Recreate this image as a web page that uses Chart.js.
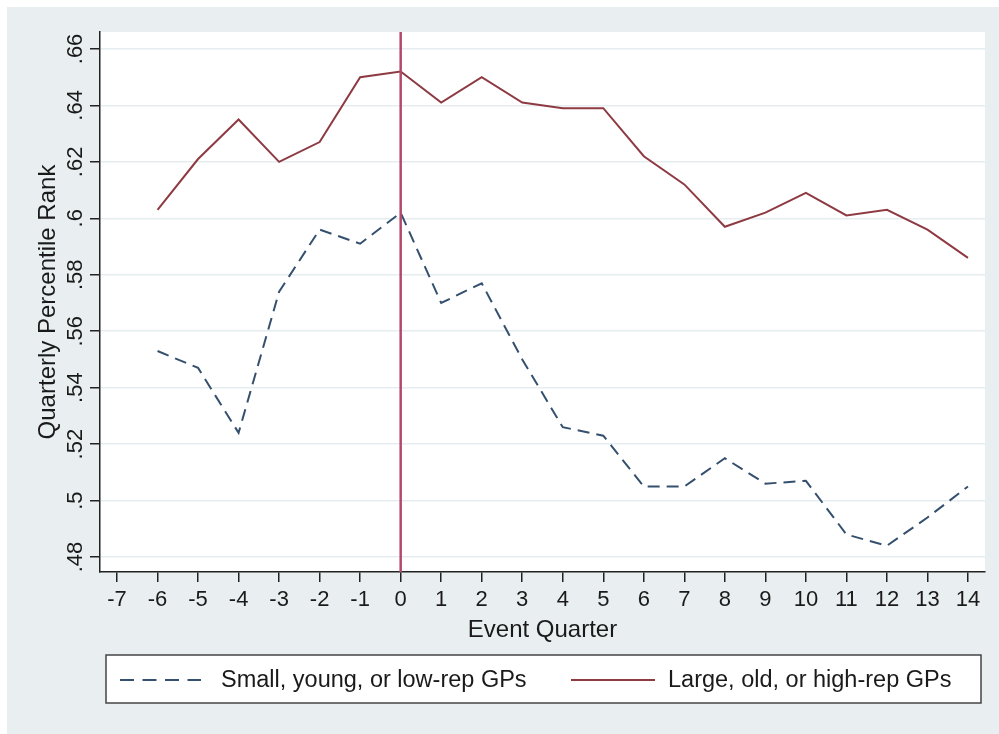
<!DOCTYPE html>
<html>
<head>
<meta charset="utf-8">
<script src="https://cdn.jsdelivr.net/npm/chart.js@4/dist/chart.umd.min.js"></script>
<style>
  html, body { margin: 0; padding: 0; background: #fff; }
  canvas { display: block; }
</style>
</head>
<body>
<canvas id="eventChart" width="999" height="734"></canvas>
<script>
const quarters = [-6, -5, -4, -3, -2, -1, 0, 1, 2, 3, 4, 5, 6, 7, 8, 9, 10, 11, 12, 13, 14];
const smallGP = [0.553, 0.547, 0.524, 0.574, 0.596, 0.591, 0.602, 0.570, 0.577, 0.550, 0.526, 0.523, 0.505, 0.505, 0.515, 0.506, 0.507, 0.488, 0.484, 0.494, 0.505];
const largeGP = [0.603, 0.621, 0.635, 0.620, 0.627, 0.650, 0.652, 0.641, 0.650, 0.641, 0.639, 0.639, 0.622, 0.612, 0.597, 0.602, 0.609, 0.601, 0.603, 0.596, 0.586];
const xTicks = [-7, -6, -5, -4, -3, -2, -1, 0, 1, 2, 3, 4, 5, 6, 7, 8, 9, 10, 11, 12, 13, 14];
const yTicks = [0.48, 0.50, 0.52, 0.54, 0.56, 0.58, 0.60, 0.62, 0.64, 0.66];
const eventQuarter = 0;

const FONT = '"Liberation Sans", Arial, Helvetica, sans-serif';
const INK = '#1a1a1a';

// Stata style: .66, .6, .5
const fmtRank = (v) => {
  let s = v.toFixed(2).replace(/0+$/, '');
  return s.replace(/^0/, '');
};

const toPoints = (values) => quarters.map((q, i) => ({ x: q, y: values[i] }));

const stataFrame = {
  id: 'stataFrame',
  beforeDraw: (chart) => {
    const { ctx, chartArea: a } = chart;
    ctx.save();
    ctx.fillStyle = '#e9eff1';
    ctx.fillRect(7, 7, 992, 727);
    ctx.fillStyle = '#ffffff';
    ctx.fillRect(a.left, a.top, a.right - a.left, a.bottom - a.top);
    ctx.restore();
  },
  afterDatasetsDraw: (chart) => {
    const { ctx, chartArea: a } = chart;
    const x = chart.scales.x.getPixelForValue(eventQuarter);
    ctx.save();
    ctx.strokeStyle = '#b3486a';
    ctx.lineWidth = 2.5;
    ctx.beginPath();
    ctx.moveTo(x, a.top);
    ctx.lineTo(x, a.bottom);
    ctx.stroke();
    ctx.restore();
  },
  afterDraw: (chart) => {
    const { ctx } = chart;
    const y = chart.scales.y;
    ctx.save();
    ctx.fillStyle = INK;
    ctx.font = `22px ${FONT}`;
    ctx.textAlign = 'center';
    ctx.textBaseline = 'middle';
    yTicks.forEach((v) => {
      const py = y.getPixelForValue(v);
      ctx.save();
      ctx.translate(75, py);
      ctx.rotate(-Math.PI / 2);
      ctx.fillText(fmtRank(v), 0, 1);
      ctx.restore();
    });

    // legend box
    ctx.fillStyle = '#ffffff';
    ctx.fillRect(106, 655, 875, 48);
    ctx.strokeStyle = '#444';
    ctx.lineWidth = 1.5;
    ctx.strokeRect(106, 655, 875, 48);

    ctx.font = `23.5px ${FONT}`;
    const items = [
      { ds: chart.data.datasets[0], x0: 120, x1: 201, tx: 221 },
      { ds: chart.data.datasets[1], x0: 571, x1: 655, tx: 668 }
    ];
    items.forEach(({ ds, x0, x1, tx }) => {
      ctx.strokeStyle = ds.borderColor;
      ctx.lineWidth = ds.borderWidth;
      ctx.setLineDash(ds.borderDash ? [14, 8.5] : []);
      ctx.beginPath();
      ctx.moveTo(x0, 680);
      ctx.lineTo(x1, 680);
      ctx.stroke();
      ctx.setLineDash([]);
      ctx.fillStyle = INK;
      ctx.textAlign = 'left';
      ctx.fillText(ds.label, tx, 681);
    });
    ctx.restore();
  }
};

const ctx = document.getElementById('eventChart').getContext('2d');

new Chart(ctx, {
  type: 'line',
  data: {
    datasets: [
      {
        label: 'Small, young, or low-rep GPs',
        data: toPoints(smallGP),
        borderColor: '#34506e',
        borderWidth: 2,
        borderDash: [12, 7],
        pointRadius: 0,
        tension: 0
      },
      {
        label: 'Large, old, or high-rep GPs',
        data: toPoints(largeGP),
        borderColor: '#8e3a42',
        borderWidth: 2,
        pointRadius: 0,
        tension: 0
      }
    ]
  },
  options: {
    responsive: false,
    animation: false,
    layout: { padding: { top: 32, right: 14, left: 0, bottom: 0 } },
    plugins: {
      legend: { display: false },
      tooltip: { enabled: false }
    },
    scales: {
      x: {
        type: 'linear',
        position: 'bottom',
        min: -7.42,
        max: 14.42,
        afterBuildTicks: (axis) => { axis.ticks = xTicks.map((v) => ({ value: v })); },
        afterFit: (axis) => { axis.height = 162; },
        border: { display: true, color: '#222', width: 1.5 },
        grid: { drawOnChartArea: false, drawTicks: true, tickLength: 10, tickColor: '#222', lineWidth: 1.5 },
        ticks: {
          color: INK,
          font: { family: FONT, size: 22 },
          padding: 5,
          maxRotation: 0,
          autoSkip: false,
          callback: (v) => String(v)
        },
        title: {
          display: true,
          text: 'Event Quarter',
          color: INK,
          font: { family: FONT, size: 24 },
          padding: { top: 0, bottom: 89 }
        }
      },
      y: {
        min: 0.4747,
        max: 0.666,
        afterBuildTicks: (axis) => { axis.ticks = yTicks.map((v) => ({ value: v })); },
        afterFit: (axis) => { axis.width = 100; },
        border: { display: true, color: '#222', width: 1.5 },
        grid: { color: '#e6edf0', lineWidth: 1.5, drawTicks: true, tickLength: 10, tickColor: '#222' },
        ticks: { display: false },
        title: {
          display: true,
          text: 'Quarterly Percentile Rank',
          color: INK,
          font: { family: FONT, size: 24 },
          padding: { top: 34, bottom: 0 }
        }
      }
    }
  },
  plugins: [stataFrame]
});
</script>
</body>
</html>
